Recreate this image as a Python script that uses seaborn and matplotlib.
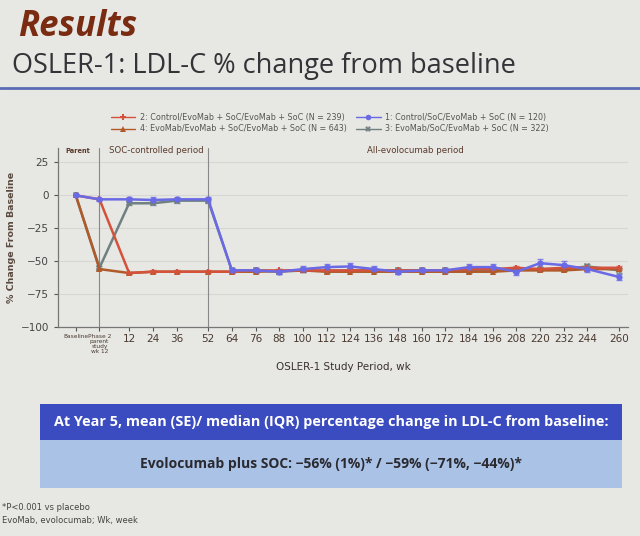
import numpy as np
import pandas as pd
import matplotlib
matplotlib.use("Agg")
import matplotlib.pyplot as plt
import seaborn as sns
from matplotlib.patches import Rectangle
from matplotlib.lines import Line2D

# ---------------- data ----------------
tick_labels = ["Baseline", "Phase 2\nparent\nstudy\nwk 12", "12", "24", "36", "52", "64", "76", "88",
               "100", "112", "124", "136", "148", "160", "172", "184", "196", "208", "220",
               "232", "244", "260"]
weeks = [-15, -3, 12, 24, 36, 52, 64, 76, 88, 100, 112, 124, 136, 148, 160, 172, 184,
         196, 208, 220, 232, 244, 260]

names = ["2: Control/EvoMab + SoC/EvoMab + SoC (N = 239)",
         "4: EvoMab/EvoMab + SoC/EvoMab + SoC (N = 643)",
         "1: Control/SoC/EvoMab + SoC (N = 120)",
         "3: EvoMab/SoC/EvoMab + SoC (N = 322)"]

s2 = [0, -3, -59, -58, -58, -58, -58, -57, -57, -57, -57, -57, -57, -57, -57, -57,
      -56, -56, -55, -56, -55, -55, -55]
s4 = [0, -56, -59, -58, -58, -58, -58, -58, -57.5, -57, -58, -58, -58, -58, -58, -58,
      -58, -58, -57, -57, -57, -56, -56]
s1 = [0, -3, -3, -3.5, -3, -3, -57, -57, -58, -56, -54.5, -54, -56, -58, -57, -57,
      -54.5, -54.5, -58, -51.5, -53, -56, -62]
s3 = [0, -55, -6, -6, -4, -4, -57, -57, -58, -57, -57.5, -57, -57, -57, -57, -57,
      -57.5, -57, -56.5, -56, -56, -54, -57]

se2 = [0, 0.5, 1, 1, 1, 1, 1, 1, 1, 1, 1, 1, 1, 1, 1, 1, 1, 1, 1, 1, 1, 1, 1]
se4 = [0, 0.5, 0.5, 0.5, 0.5, 0.5, 0.5, 0.5, 0.5, 0.5, 0.5, 0.5, 0.5, 0.5, 0.5, 0.5,
       0.5, 0.5, 0.5, 0.5, 0.5, 0.5, 0.5]
se1 = [0, 1, 2, 2, 1.5, 1.5, 2, 2, 2, 2, 2.5, 2.5, 2.5, 2, 2, 2, 2.5, 2.5, 2.5, 3, 3, 2.5, 2.5]
se3 = [0, 1, 1.5, 1.5, 1.5, 1.5, 1.5, 1.5, 1.5, 1.5, 1.5, 1.5, 1.5, 1.5, 1.5, 1.5,
       1.5, 1.5, 1.5, 1.5, 1.5, 2, 2]

series_vals = [s2, s4, s1, s3]
series_se = [se2, se4, se1, se3]
colors = ["#d4523c", "#b05a2a", "#6a6ae6", "#6f8080"]
markers = ["P", "^", "o", "X"]

rows = []
for n, v in zip(names, series_vals):
    for w, y in zip(weeks, v):
        rows.append({"week": w, "value": y, "group": n})
df = pd.DataFrame(rows)

# ---------------- figure ----------------
sns.set_theme(style="white")
plt.rcParams["font.family"] = ["DejaVu Sans"]
bg = "#e7e7e3"
fig = plt.figure(figsize=(6.4, 5.36), dpi=100, facecolor=bg)

# Titles
fig.text(18 / 640, 1 - 27 / 536, "Results", fontsize=25, fontweight="bold", fontstyle="italic",
         color="#7a2c12", family="Open Sans", va="center", ha="left")
fig.text(12 / 640, 1 - 66 / 536, "OSLER-1: LDL-C % change from baseline", fontsize=19.5,
         color="#333338", family="Open Sans", va="center", ha="left")
fig.add_artist(Line2D([0, 1], [1 - 88 / 536, 1 - 88 / 536], color="#5a6cb6", lw=2,
                      transform=fig.transFigure))

ax = fig.add_axes([58 / 640, 1 - 327 / 536, (628 - 58) / 640, (327 - 148) / 536])
ax.set_facecolor(bg)

pal = dict(zip(names, colors))
mk = dict(zip(names, markers))
draw_order = [names[3], names[1], names[0], names[2]]
sns.lineplot(data=df, x="week", y="value", hue="group", style="group", hue_order=draw_order,
             style_order=draw_order, palette=pal, markers=mk, dashes=False, lw=1.8,
             markersize=4.5, markeredgewidth=0, ax=ax, legend=False, zorder=3)
for v, e, c in zip(series_vals, series_se, colors):
    ax.errorbar(weeks, v, yerr=e, fmt="none", ecolor=c, elinewidth=0.8, capsize=2.5,
                alpha=0.8, zorder=2)

ax.set_xlim(-24, 264.5)
ax.set_ylim(-100, 36)
ax.set_yticks([25, 0, -25, -50, -75, -100])
ax.set_yticklabels(["25", "0", "\u221225", "\u221250", "\u221275", "\u2212100"])
ax.set_xticks(weeks)
ax.set_xticklabels(tick_labels)
for i, lab in enumerate(ax.get_xticklabels()):
    if i < 2:
        lab.set_fontsize(4.2)
        lab.set_linespacing(1.0)
    else:
        lab.set_fontsize(7.5)
ax.tick_params(axis="y", labelsize=7.5, colors="#555555", length=3, width=0.8, direction="out",
               left=True, labelcolor="#444444")
ax.tick_params(axis="x", colors="#555555", length=3, width=0.8, direction="out", bottom=True,
               labelcolor="#4a3a30", pad=2)
for yv in [25, 0, -25, -50, -75]:
    ax.axhline(yv, color="#d6d6d4", lw=0.8, zorder=0)
for s in ["top", "right"]:
    ax.spines[s].set_visible(False)
for s in ["left", "bottom"]:
    ax.spines[s].set_color("#777777")
    ax.spines[s].set_linewidth(0.9)
ax.axvline(-3, color="#888888", lw=0.8, zorder=1)
ax.axvline(52, color="#888888", lw=0.8, zorder=1)

ax.set_ylabel("% Change From Baseline", fontsize=6.8, fontweight="bold", color="#5a4a40",
              labelpad=3)
ax.set_xlabel("OSLER-1 Study Period, wk", fontsize=7.5, color="#3a3030", labelpad=6)

ax.text(-14, 34, "Parent", fontsize=4.8, fontweight="bold", color="#5a3a2a", ha="center",
        va="center")
ax.text(26, 34, "SOC-controlled period", fontsize=6.2, color="#5a3a2a", ha="center",
        va="center")
ax.text(157, 34, "All-evolocumab period", fontsize=6.2, color="#5a3a2a", ha="center",
        va="center")

handles = [Line2D([], [], color=c, marker=m, markersize=4, lw=1.0, markeredgewidth=0)
           for c, m in zip(colors, markers)]
fig.legend(handles, names, ncol=2, loc="center", bbox_to_anchor=(330 / 640, 1 - 123 / 536),
           frameon=False, fontsize=5.8, handlelength=3, columnspacing=1.2, labelspacing=0.35,
           handletextpad=0.6, labelcolor="#555555")

# Bottom info box
box_l, box_r = 40 / 640, 622 / 640
fig.add_artist(Rectangle((box_l, 1 - 440 / 536), box_r - box_l, 36 / 536,
                         transform=fig.transFigure, facecolor="#3b4cc0", edgecolor="none"))
fig.add_artist(Rectangle((box_l, 1 - 488 / 536), box_r - box_l, 48 / 536,
                         transform=fig.transFigure, facecolor="#a9c2e6", edgecolor="none"))
fig.text(331 / 640, 1 - 422 / 536,
         "At Year 5, mean (SE)/ median (IQR) percentage change in LDL-C from baseline:",
         fontsize=10.4, fontweight="bold", color="white", family="Open Sans", ha="center",
         va="center")
fig.text(331 / 640, 1 - 464 / 536,
         "Evolocumab plus SOC: \u221256% (1%)* / \u221259% (\u221271%, \u221244%)*",
         fontsize=10, fontweight="bold", color="#2a2a30", family="Open Sans", ha="center",
         va="center")

fig.text(2 / 640, 1 - 508 / 536, "*P<0.001 vs placebo", fontsize=6, color="#444444",
         ha="left", va="center")
fig.text(2 / 640, 1 - 521 / 536, "EvoMab, evolocumab; Wk, week", fontsize=6, color="#444444",
         ha="left", va="center")

fig.savefig("out.png", dpi=100, facecolor=bg)
